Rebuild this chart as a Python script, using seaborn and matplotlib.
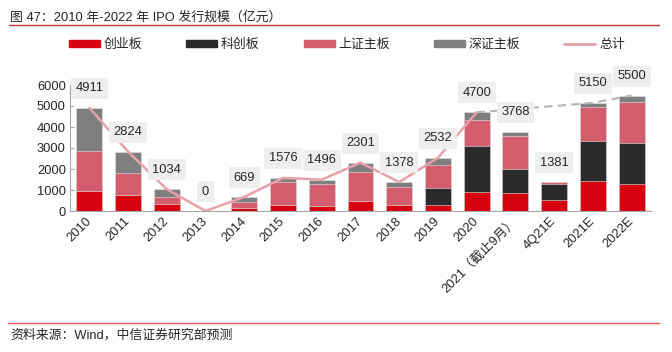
import numpy as np
import matplotlib.pyplot as plt
import seaborn as sns
from matplotlib.patches import Patch
from matplotlib.lines import Line2D

# 数据（亿元）
categories = ['2010', '2011', '2012', '2013', '2014', '2015', '2016', '2017', '2018',
              '2019', '2020', '2021（截止9月）', '4Q21E', '2021E', '2022E']
chuangye = [970, 780, 350, 0, 160, 300, 250, 490, 280, 300, 890, 870, 510, 1430, 1270]
kechuang = [0, 0, 0, 0, 0, 0, 0, 0, 0, 810, 2220, 1150, 790, 1900, 1950]
shangzheng = [1900, 1010, 330, 0, 290, 1100, 1020, 1380, 880, 1070, 1220, 1560, 65, 1640, 1970]
shenzheng = [2041, 1034, 354, 0, 219, 176, 226, 431, 218, 352, 370, 188, 16, 180, 310]
totals = [4911, 2824, 1034, 0, 669, 1576, 1496, 2301, 1378, 2532, 4700, 3768, 1381, 5150, 5500]
series_names = ['创业板', '科创板', '上证主板', '深证主板']

sns.set_theme(style='white')
plt.rcParams['font.family'] = ['Liberation Sans', 'Noto Sans CJK SC']
plt.rcParams['axes.unicode_minus'] = False
fs = 9.3

colors = ['#d7000f', '#2b2b2b', '#d45d6d', '#7f7f7f']
line_color = '#e8a0aa'
dash_color = '#b5b5b5'

fig = plt.figure(figsize=(6.72, 3.52), dpi=100)
ax = fig.add_axes([70 / 672, 1 - 211 / 352, 581 / 672, 126 / 352])

# 堆叠柱：从最上层的累计值开始画，依次覆盖
layers = np.cumsum([chuangye, kechuang, shangzheng, shenzheng], axis=0)
for lvl in range(3, -1, -1):
    sns.barplot(x=categories, y=layers[lvl], color=colors[lvl], width=0.67,
                saturation=1, edgecolor='#e6e6e6', linewidth=0.4, ax=ax, zorder=2)

# 总计折线：实际值实线，预测部分虚线
n_real = 11
sns.lineplot(x=np.arange(n_real), y=totals[:n_real], color=line_color,
             linewidth=1.8, ax=ax, zorder=3)
idx = [10, 13, 14]
sns.lineplot(x=idx, y=[totals[i] for i in idx], color=dash_color, linewidth=1.5,
             linestyle=(0, (4, 2.5)), ax=ax, zorder=3)

for i, t in enumerate(totals):
    ax.annotate(str(t), (i, t), xytext=(0, 14), textcoords='offset points',
                ha='center', va='center', fontsize=fs,
                bbox=dict(boxstyle='square,pad=0.35', fc='#eeeeee', ec='none'),
                zorder=5)

ax.set_xlim(-0.5, len(categories) - 0.5)
ax.set_ylim(0, 6000)
ax.set_yticks(range(0, 6001, 1000))
ax.set_xticks(range(len(categories)))
ax.set_xticklabels(categories, rotation=45, ha='right', va='center',
                   rotation_mode='anchor', fontsize=fs)
ax.set_xticks(np.arange(-0.5, len(categories), 1), minor=True)
ax.tick_params(axis='x', which='major', length=0, pad=6)
ax.tick_params(axis='x', which='minor', length=3, direction='out', color='#a6a6a6', width=0.8)
ax.tick_params(axis='y', length=3, direction='in', color='#a6a6a6', width=0.8,
               labelsize=fs, pad=3, left=True)
ax.set_xlabel('')
ax.set_ylabel('')
sns.despine(ax=ax)
for s in ['left', 'bottom']:
    ax.spines[s].set_color('#a6a6a6')
    ax.spines[s].set_linewidth(0.8)

handles = [Patch(color=c) for c in colors] + [Line2D([], [], color=line_color, lw=2)]
fig.legend(handles, series_names + ['总计'], ncol=5, loc='center',
           bbox_to_anchor=(0.516, 1 - 45 / 352), frameon=False, fontsize=fs,
           handlelength=2.4, handleheight=0.45, handletextpad=0.3, columnspacing=3.4)

fig.text(10 / 672, 1 - 17 / 352, '图 47：2010 年-2022 年 IPO 发行规模（亿元）',
         fontsize=fs, va='center', ha='left')
fig.add_artist(Line2D([9 / 672, 659 / 672], [1 - 25 / 352] * 2, color='#b83232', lw=1))
fig.add_artist(Line2D([8 / 672, 659 / 672], [1 - 322.7 / 352] * 2, color='#e05a5a', lw=1))
fig.text(10 / 672, 1 - 335 / 352, '资料来源：Wind，中信证券研究部预测',
         fontsize=fs, va='center', ha='left')

fig.savefig('out.png', dpi=100)
